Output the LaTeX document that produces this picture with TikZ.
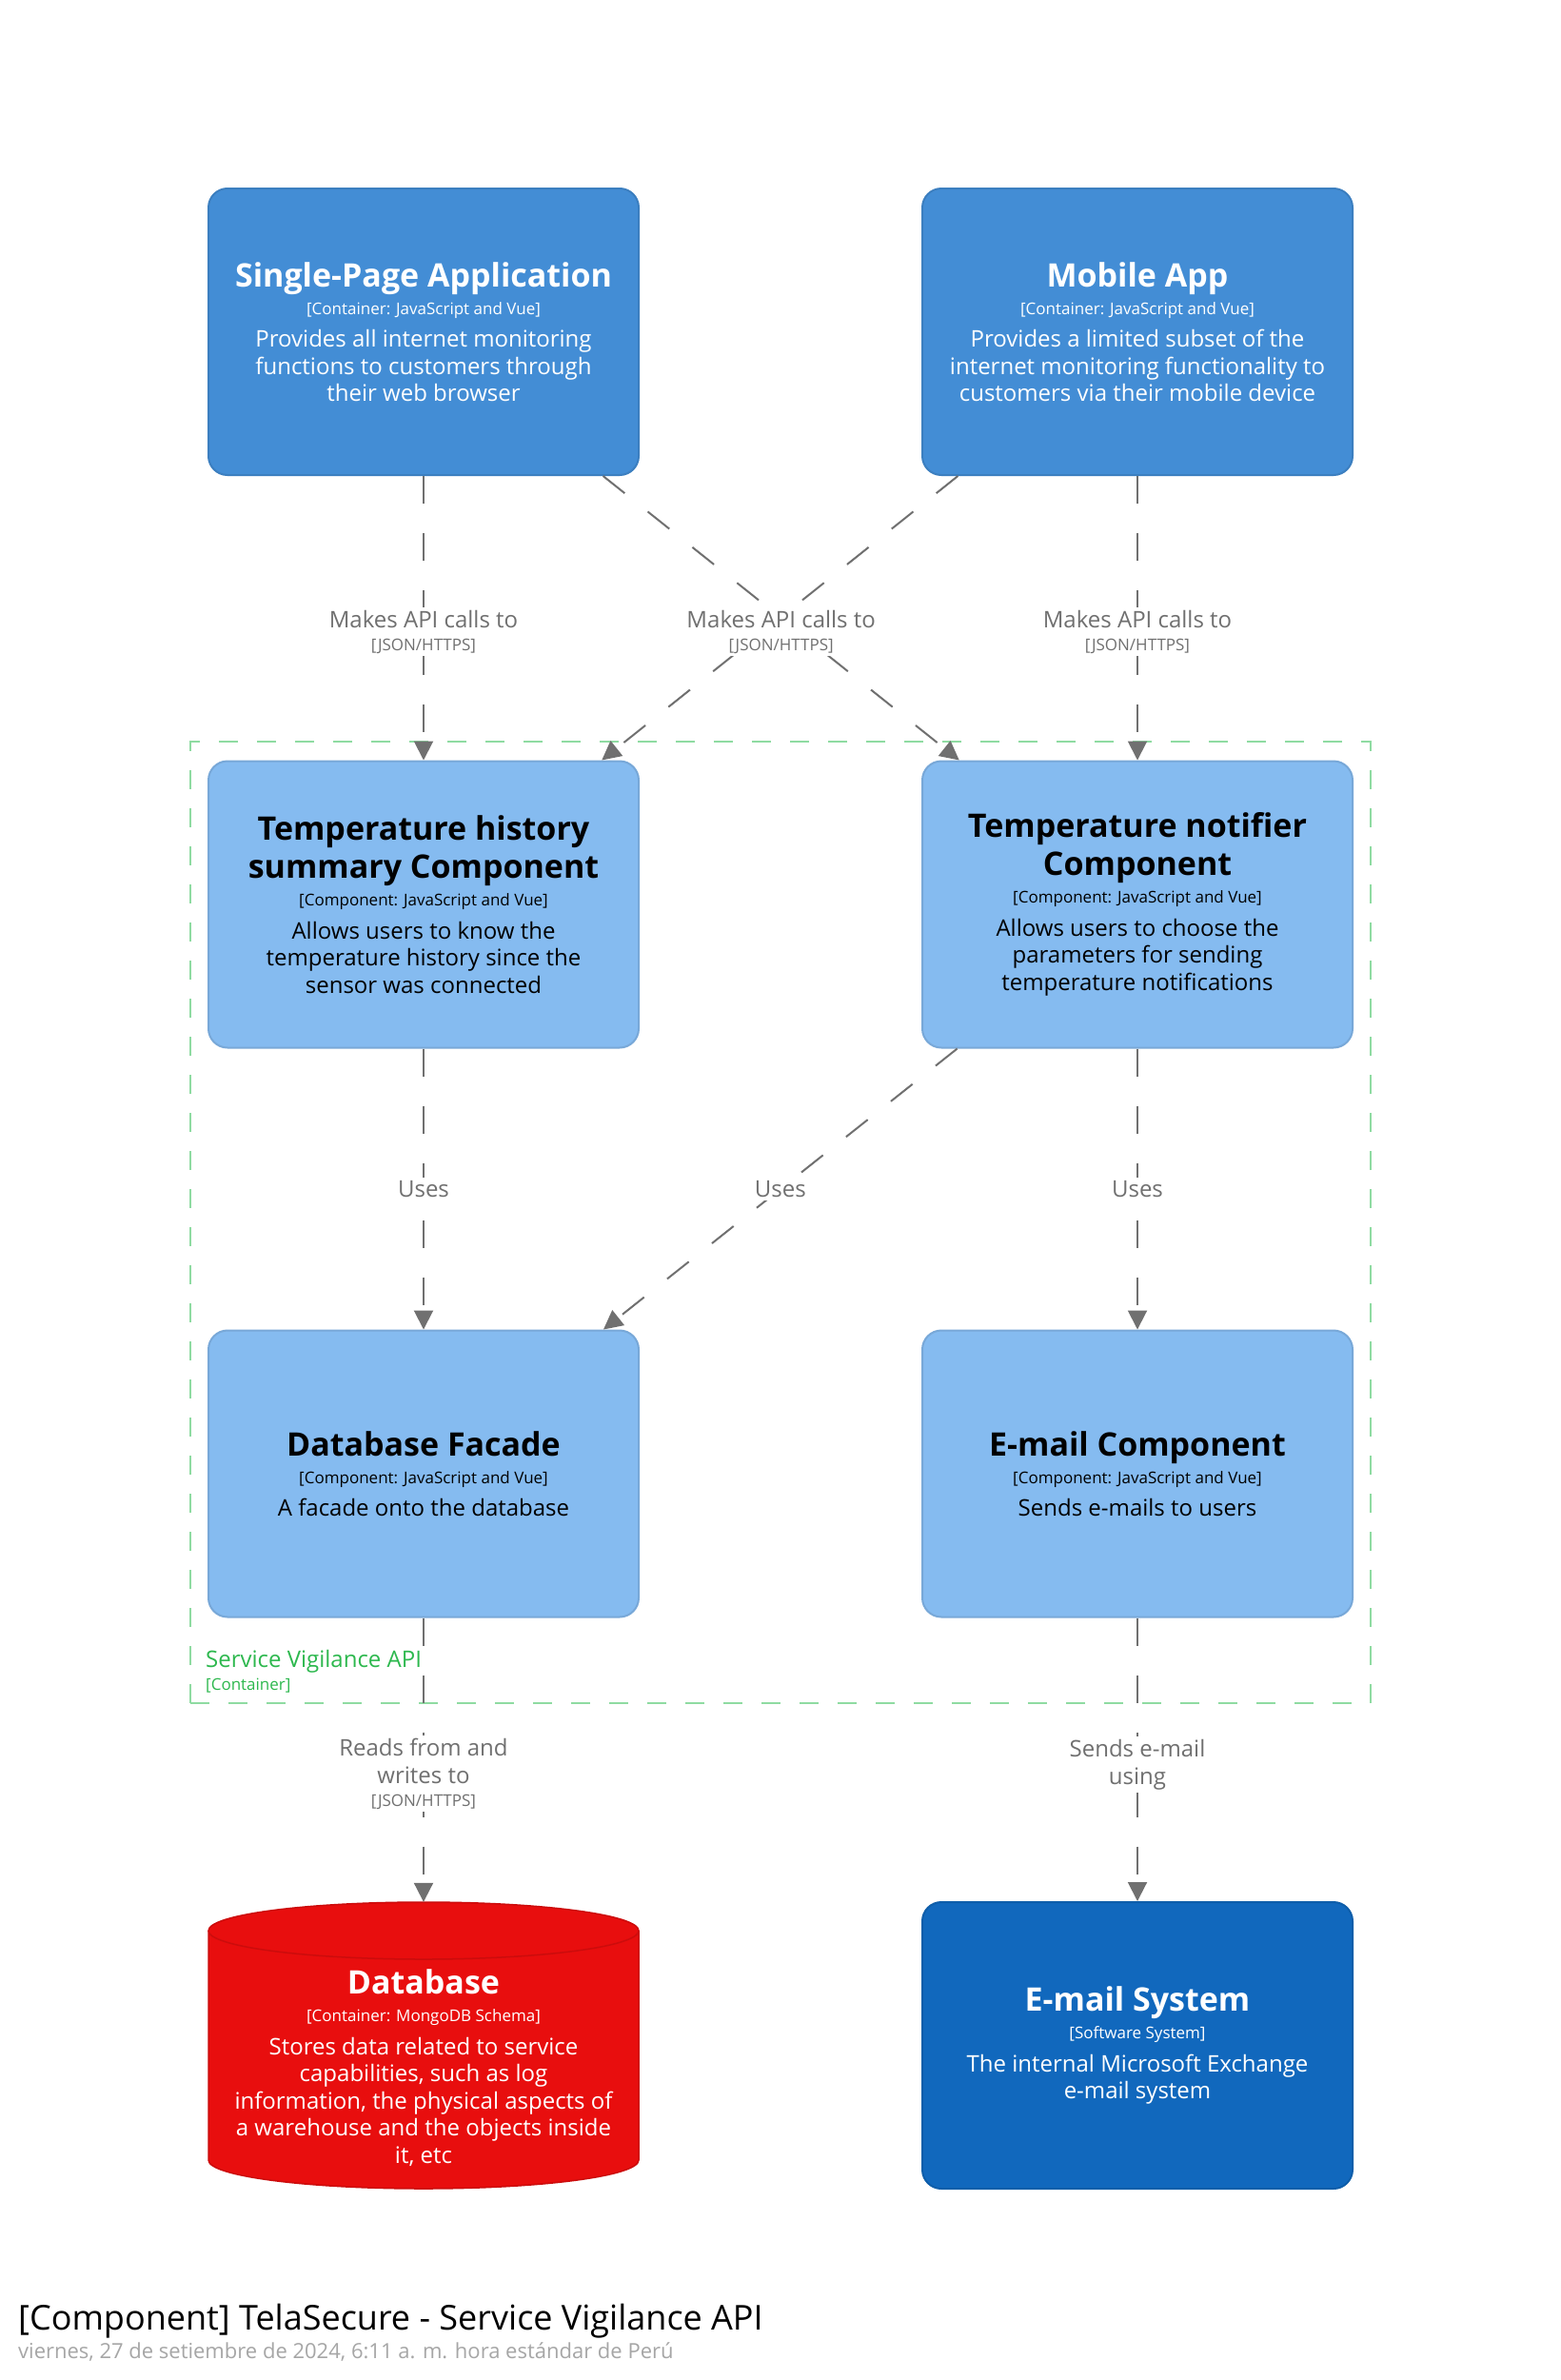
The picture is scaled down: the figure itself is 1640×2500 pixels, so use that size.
\documentclass[tikz,border=0pt]{standalone}
\usepackage{fontspec}
\setmainfont{Open Sans}
\usetikzlibrary{arrows.meta}
\setlength\parindent{0pt}
\setlength\parskip{0pt}
\definecolor{contfill}{HTML}{438DD5}
\definecolor{contline}{HTML}{3C7FC0}
\definecolor{compfill}{HTML}{85BBF0}
\definecolor{compline}{HTML}{78A8D8}
\definecolor{dbfill}{HTML}{E80E0E}
\definecolor{dbline}{HTML}{CC0C0C}
\definecolor{sysfill}{HTML}{1168BD}
\definecolor{sysline}{HTML}{0F5EAA}
\definecolor{edgegray}{HTML}{707070}
\definecolor{bndline}{HTML}{8FDBA2}
\definecolor{bndtext}{HTML}{2DB84E}
\definecolor{dategray}{HTML}{A6A6A6}
\newcommand\ttl[1]{{\fontsize{34}{40}\selectfont\bfseries #1\par}}
\newcommand\mta[1]{{\fontsize{17}{29}\selectfont #1\par}\vskip6pt}
\newcommand\dsc[1]{{\fontsize{24}{28.5}\selectfont #1\par}}
\newcommand\lmain[1]{{\fontsize{24}{29}\selectfont #1\par}}
\newcommand\ltech[1]{{\fontsize{17}{23.5}\selectfont #1\par}}
\tikzset{
  card/.style={rectangle, rounded corners=20pt, line width=2pt,
    minimum width=452pt, minimum height=301pt, text width=436pt,
    inner xsep=8pt, inner ysep=0pt, align=flush center},
  cont/.style={card, fill=contfill, draw=contline, text=white},
  comp/.style={card, fill=compfill, draw=compline, text=black},
  sys/.style={card, fill=sysfill, draw=sysline, text=white},
  dbbox/.style={rectangle, minimum width=452pt, minimum height=301pt, inner sep=0pt},
  rel/.style={draw=edgegray, line width=2pt, dash pattern=on 29pt off 31pt,
    -{Triangle[width=20pt,length=20pt]}},
  lbl/.style={fill=white, text=edgegray, align=flush center, inner sep=3pt, text width=#1},
  bnd/.style={rectangle, draw=bndline, line width=2pt, dash pattern=on 20pt off 20pt,
    minimum width=1240pt, minimum height=1010pt, inner sep=0pt},
  plain/.style={inner sep=0pt},
}
\begin{document}
\begin{tikzpicture}[x=1pt,y=-1pt]
\useasboundingbox[fill=white] (0,0) rectangle (1640,2500);

% boundary
\node[bnd] (api) at (820,1284) {};
\node[plain, anchor=base west, text=bndtext, font=\fontsize{24}{29}\selectfont] (apiname) at (216,1751) {Service Vigilance API};
\node[plain, anchor=base west, text=bndtext, font=\fontsize{17}{20}\selectfont] (apitype) at (216,1775) {[Container]};

% containers
\node[cont] (spa) at (445,348.5) {\ttl{Single-Page Application}\mta{[Container: JavaScript and Vue]}\dsc{Provides all internet monitoring\endgraf functions to customers through\endgraf their web browser}};
\node[cont] (mob) at (1195,348.5) {\ttl{Mobile App}\mta{[Container: JavaScript and Vue]}\dsc{Provides a limited subset of the\endgraf internet monitoring functionality to\endgraf customers via their mobile device}};

% components
\node[comp] (th) at (445,950) {\ttl{Temperature history\endgraf summary Component}\mta{[Component: JavaScript and Vue]}\dsc{Allows users to know the\endgraf temperature history since the\endgraf sensor was connected}};
\node[comp] (tn) at (1195,950) {\ttl{Temperature notifier\endgraf Component}\mta{[Component: JavaScript and Vue]}\dsc{Allows users to choose the\endgraf parameters for sending\endgraf temperature notifications}};
\node[comp] (dbf) at (445,1548) {\ttl{Database Facade}\mta{[Component: JavaScript and Vue]}\dsc{A facade onto the database}};
\node[comp] (ec) at (1195,1548) {\ttl{E-mail Component}\mta{[Component: JavaScript and Vue]}\dsc{Sends e-mails to users}};

% database cylinder
\node[dbbox] (db) at (445,2148.5) {};
\filldraw[fill=dbfill, draw=dbline, line width=1.5pt]
  (219,2028) -- (219,2269) arc[start angle=180, end angle=360, x radius=226pt, y radius=30pt]
  -- (671,2028) arc[start angle=0, end angle=180, x radius=226pt, y radius=30pt] -- cycle;
\draw[dbline, line width=1.5pt] (219,2028) arc[start angle=180, end angle=360, x radius=226pt, y radius=30pt];
\node[plain, text=white, text width=436pt, align=flush center] (dbtext) at (445,2172) {\ttl{Database}\mta{[Container: MongoDB Schema]}\dsc{Stores data related to service\endgraf capabilities, such as log\endgraf information, the physical aspects of\endgraf a warehouse and the objects inside\endgraf it, etc}};

% external system
\node[sys] (es) at (1195,2148.5) {\ttl{E-mail System}\mta{[Software System]}\dsc{The internal Microsoft Exchange\endgraf e-mail system}};

% relationships
\draw[rel] (spa) -- node[lbl=204pt, yshift=-14.5pt] (l1) {\lmain{Makes API calls to}\ltech{[JSON/HTTPS]}} (th);
\draw[rel] (mob) -- (th);
\draw[rel] (spa) -- node[lbl=204pt, yshift=-14.5pt] (l2) {\lmain{Makes API calls to}\ltech{[JSON/HTTPS]}} (tn);
\draw[rel] (mob) -- node[lbl=204pt, yshift=-14.5pt] (l3) {\lmain{Makes API calls to}\ltech{[JSON/HTTPS]}} (tn);
\draw[rel] (th) -- node[lbl=56pt] (l4) {\lmain{Uses}} (dbf);
\draw[rel] (tn) -- node[lbl=56pt] (l5) {\lmain{Uses}} (dbf);
\draw[rel] (tn) -- node[lbl=56pt] (l6) {\lmain{Uses}} (ec);
\draw[rel] (dbf) -- node[lbl=178pt, yshift=-14.5pt] (l7) {\lmain{Reads from and\endgraf writes to}\ltech{[JSON/HTTPS]}} (db.north);
\draw[rel] (ec) -- node[lbl=150pt, yshift=-5pt] (l8) {\lmain{Sends e-mail\endgraf using}} (es);

% footer
\node[plain, anchor=base west, font=\fontsize{36}{42}\selectfont] (title) at (19,2447) {[Component] TelaSecure - Service Vigilance API};
\node[plain, anchor=base west, text=dategray, font=\fontsize{22}{27}\selectfont] (date) at (19,2477) {viernes, 27 de setiembre de 2024, 6:11 a. m. hora estándar de Perú};
\end{tikzpicture}
\end{document}
